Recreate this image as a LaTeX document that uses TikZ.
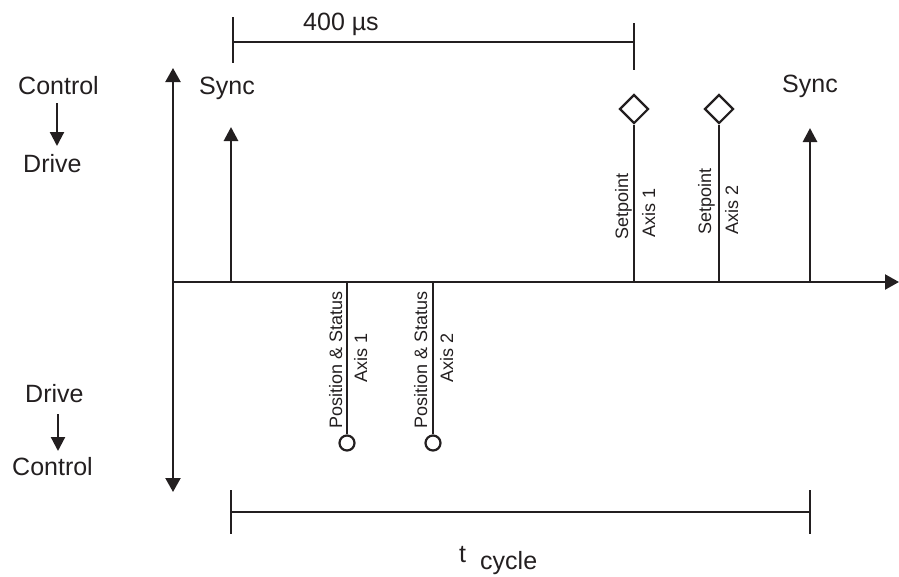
\documentclass[tikz,border=0pt]{standalone}
\usepackage{fontspec}
\setmainfont{Liberation Sans}
\usetikzlibrary{arrows.meta,shapes.geometric}
\definecolor{ink}{HTML}{231F20}
\begin{document}
\begin{tikzpicture}[x=1pt,y=-1pt,
  ink/.style={draw=ink,line width=2.2pt},
  tip/.style={-{Triangle[length=14pt,width=14pt]}},
  big/.style={inner sep=0pt,font=\fontsize{25}{30}\selectfont,text=ink,anchor=base west},
  small/.style={inner sep=0pt,font=\fontsize{18}{22}\selectfont,text=ink,anchor=base west,rotate=90},
  dia/.style={diamond,draw=ink,line width=2.2pt,fill=white,minimum width=29pt,minimum height=29pt,inner sep=0pt},
  ring/.style={circle,draw=ink,line width=2.2pt,fill=white,minimum size=15pt,inner sep=0pt}]
\useasboundingbox (0,0) rectangle (899,576);
% axes
\coordinate (vtop) at (173,68);
\coordinate (vbot) at (173,492);
\coordinate (o) at (173,282);
\coordinate (xend) at (899,282);
\draw[ink,{Triangle[length=14pt,width=15pt]}-{Triangle[length=14pt,width=15pt]}] (vtop) -- (vbot);
\draw[ink,-{Triangle[length=14pt,width=15pt]}] (o) -- (xend);
% left labels
\node[big] (c1) at (18,94) {Control};
\node[big] (d1) at (23,172) {Drive};
\node[big] (d2) at (25,402) {Drive};
\node[big] (c2) at (12,475) {Control};
\coordinate (a1s) at (57,103); \coordinate (a1e) at (57,146);
\coordinate (a2s) at (58,414); \coordinate (a2e) at (58,451);
\draw[ink,tip] (a1s) -- (a1e);
\draw[ink,tip] (a2s) -- (a2e);
% sync arrows
\coordinate (s1b) at (231,282); \coordinate (s1t) at (231,127);
\coordinate (s2b) at (810,282); \coordinate (s2t) at (810,128);
\draw[ink,line width=2.8pt,tip] (s1b) -- (s1t);
\draw[ink,line width=2.8pt,tip] (s2b) -- (s2t);
\node[big] (sync1) at (199,94) {Sync};
\node[big] (sync2) at (782,92) {Sync};
% setpoints
\node[dia] (dm1) at (634,109) {};
\node[dia] (dm2) at (719,109) {};
\coordinate (sp1) at (634,282); \coordinate (sp2) at (719,282);
\draw[ink,line width=2.6pt] (sp1) -- (dm1.south);
\draw[ink,line width=2.6pt] (sp2) -- (dm2.south);
\node[small] (t1) at (628,240) {Setpoint};
\node[small] (t2) at (655,238) {Axis 1};
\node[small] (t3) at (711,235) {Setpoint};
\node[small] (t4) at (738,235) {Axis 2};
% positions
\node[ring] (r1) at (347,443) {};
\node[ring] (r2) at (433,443) {};
\coordinate (p1) at (347,282); \coordinate (p2) at (433,282);
\draw[ink,line width=2.6pt] (p1) -- (r1.north);
\draw[ink,line width=2.6pt] (p2) -- (r2.north);
\node[small] (u1) at (342,429) {Position \& Status};
\node[small] (u2) at (367,383) {Axis 1};
\node[small] (u3) at (427,429) {Position \& Status};
\node[small] (u4) at (453,383) {Axis 2};
% top bracket
\coordinate (bl) at (233,42); \coordinate (br) at (634,42);
\coordinate (bl1) at (233,17); \coordinate (bl2) at (233,63);
\coordinate (br1) at (634,23); \coordinate (br2) at (634,70);
\draw[ink] (bl) -- (br);
\draw[ink] (bl1) -- (bl2);
\draw[ink] (br1) -- (br2);
\node[big] (us) at (303,30) {400 µs};
% bottom bracket
\coordinate (cl) at (231,512); \coordinate (cr) at (810,512);
\coordinate (cl1) at (231,490); \coordinate (cl2) at (231,534);
\coordinate (cr1) at (810,490); \coordinate (cr2) at (810,534);
\draw[ink] (cl) -- (cr);
\draw[ink] (cl1) -- (cl2);
\draw[ink] (cr1) -- (cr2);
\node[big] (tt) at (459,562) {t};
\node[big] (cyc) at (480,569) {cycle};
\end{tikzpicture}
\end{document}
